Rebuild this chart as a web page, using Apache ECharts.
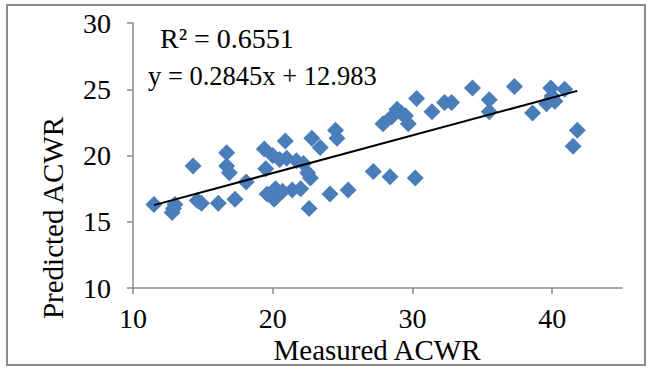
<!DOCTYPE html>
<html>
<head>
<meta charset="utf-8">
<script src="https://cdn.jsdelivr.net/npm/echarts@6/dist/echarts.min.js"></script>
<style>
  html, body { margin: 0; padding: 0; background: #fff; }
  #chart { width: 651px; height: 368px; }
</style>
</head>
<body>
<div id="chart"></div>
<script>
// measured vs predicted ACWR
const measured = [
  11.5, 12.8, 12.9, 13.0, 14.3, 14.6, 14.9, 16.1, 16.7, 16.7,
  16.9, 17.3, 18.1, 19.4, 19.5, 19.6, 20.0, 20.1, 20.2, 20.5,
  20.9, 20.7, 21.0, 21.4, 21.7, 22.0, 22.2, 22.5, 22.7, 22.6,
  22.8, 23.4, 24.1, 24.5, 24.6, 25.4, 27.2, 27.9, 28.4, 28.5,
  28.9, 29.2, 29.5, 29.7, 30.2, 30.3, 31.4, 32.3, 32.8, 34.3,
  35.5, 35.5, 37.3, 38.6, 39.6, 39.9, 40.2, 40.0, 40.9, 41.5,
  41.8
];
const predicted = [
  16.3, 15.7, 16.0, 16.3, 19.2, 16.6, 16.4, 16.4, 20.2, 19.2,
  18.7, 16.7, 18.0, 20.5, 19.0, 17.1, 20.0, 16.7, 17.5, 19.7,
  21.1, 17.3, 19.8, 17.4, 19.6, 17.5, 19.4, 18.7, 18.3, 16.0,
  21.3, 20.6, 17.1, 21.9, 21.3, 17.4, 18.8, 22.4, 18.4, 22.9,
  23.5, 23.2, 23.0, 22.4, 18.3, 24.3, 23.3, 24.0, 24.0, 25.1,
  24.2, 23.3, 25.2, 23.2, 23.9, 25.1, 24.1, 24.5, 25.0, 20.7,
  21.9
];
const xTicks = [10, 20, 30, 40];
const yTicks = [10, 15, 20, 25, 30];
const slope = 0.2845;
const intercept = 12.983;
const eqText = 'y = 0.2845x + 12.983';
const r2Text = 'R² = 0.6551';

const FONT = "'Liberation Serif', 'Times New Roman', serif";
const axisGray = '#8a8a8a';

const points = measured.map((x, i) => [x, predicted[i]]);
const xMin = Math.min(...measured);
const xMax = Math.max(...measured);
const trend = [xMin, xMax].map((x) => [x, slope * x + intercept]);

const chart = echarts.init(document.getElementById('chart'), null, { renderer: 'svg' });

chart.setOption({
  backgroundColor: '#fff',
  animation: false,
  grid: { left: 133, right: 29, top: 23, bottom: 80, containLabel: false },
  xAxis: {
    type: 'value',
    min: 10,
    max: 45,
    interval: 10,
    axisLine: { lineStyle: { color: axisGray, width: 1.5 } },
    axisTick: { show: true, length: 6, lineStyle: { color: axisGray, width: 1.5 }, customValues: xTicks },
    axisLabel: { color: '#000', fontSize: 28, fontFamily: FONT, margin: 16, customValues: xTicks },
    splitLine: { show: false }
  },
  yAxis: {
    type: 'value',
    min: 10,
    max: 30,
    interval: 5,
    axisLine: { show: true, lineStyle: { color: axisGray, width: 1.5 } },
    axisTick: { show: true, length: 6, lineStyle: { color: axisGray, width: 1.5 }, customValues: yTicks },
    axisLabel: { color: '#000', fontSize: 28, fontFamily: FONT, margin: 22, customValues: yTicks },
    splitLine: { show: false }
  },
  graphic: [
    {
      type: 'rect',
      shape: { x: 7, y: 5, width: 638, height: 360 },
      style: { fill: 'none', stroke: '#8c8c8c', lineWidth: 2 },
      silent: true
    },
    {
      type: 'text',
      left: 160, top: 24,
      style: { text: r2Text, font: `28px ${FONT}`, fill: '#000' }
    },
    {
      type: 'text',
      left: 148, top: 62,
      style: { text: eqText, font: `26.5px ${FONT}`, fill: '#000' }
    },
    {
      type: 'text',
      x: 53, y: 218,
      rotation: Math.PI / 2,
      style: { text: 'Predicted ACWR', font: `29px ${FONT}`, fill: '#000', align: 'center', verticalAlign: 'middle' }
    },
    {
      type: 'text',
      x: 377, y: 350,
      style: { text: 'Measured ACWR', font: `29px ${FONT}`, fill: '#000', align: 'center', verticalAlign: 'middle' }
    }
  ],
  series: [
    {
      type: 'scatter',
      symbol: 'diamond',
      symbolSize: 17,
      itemStyle: { color: '#4a7ebb', opacity: 1 },
      data: points,
      z: 2
    },
    {
      type: 'line',
      data: trend,
      showSymbol: false,
      lineStyle: { color: '#000', width: 2 },
      z: 3
    }
  ]
});
</script>
</body>
</html>
